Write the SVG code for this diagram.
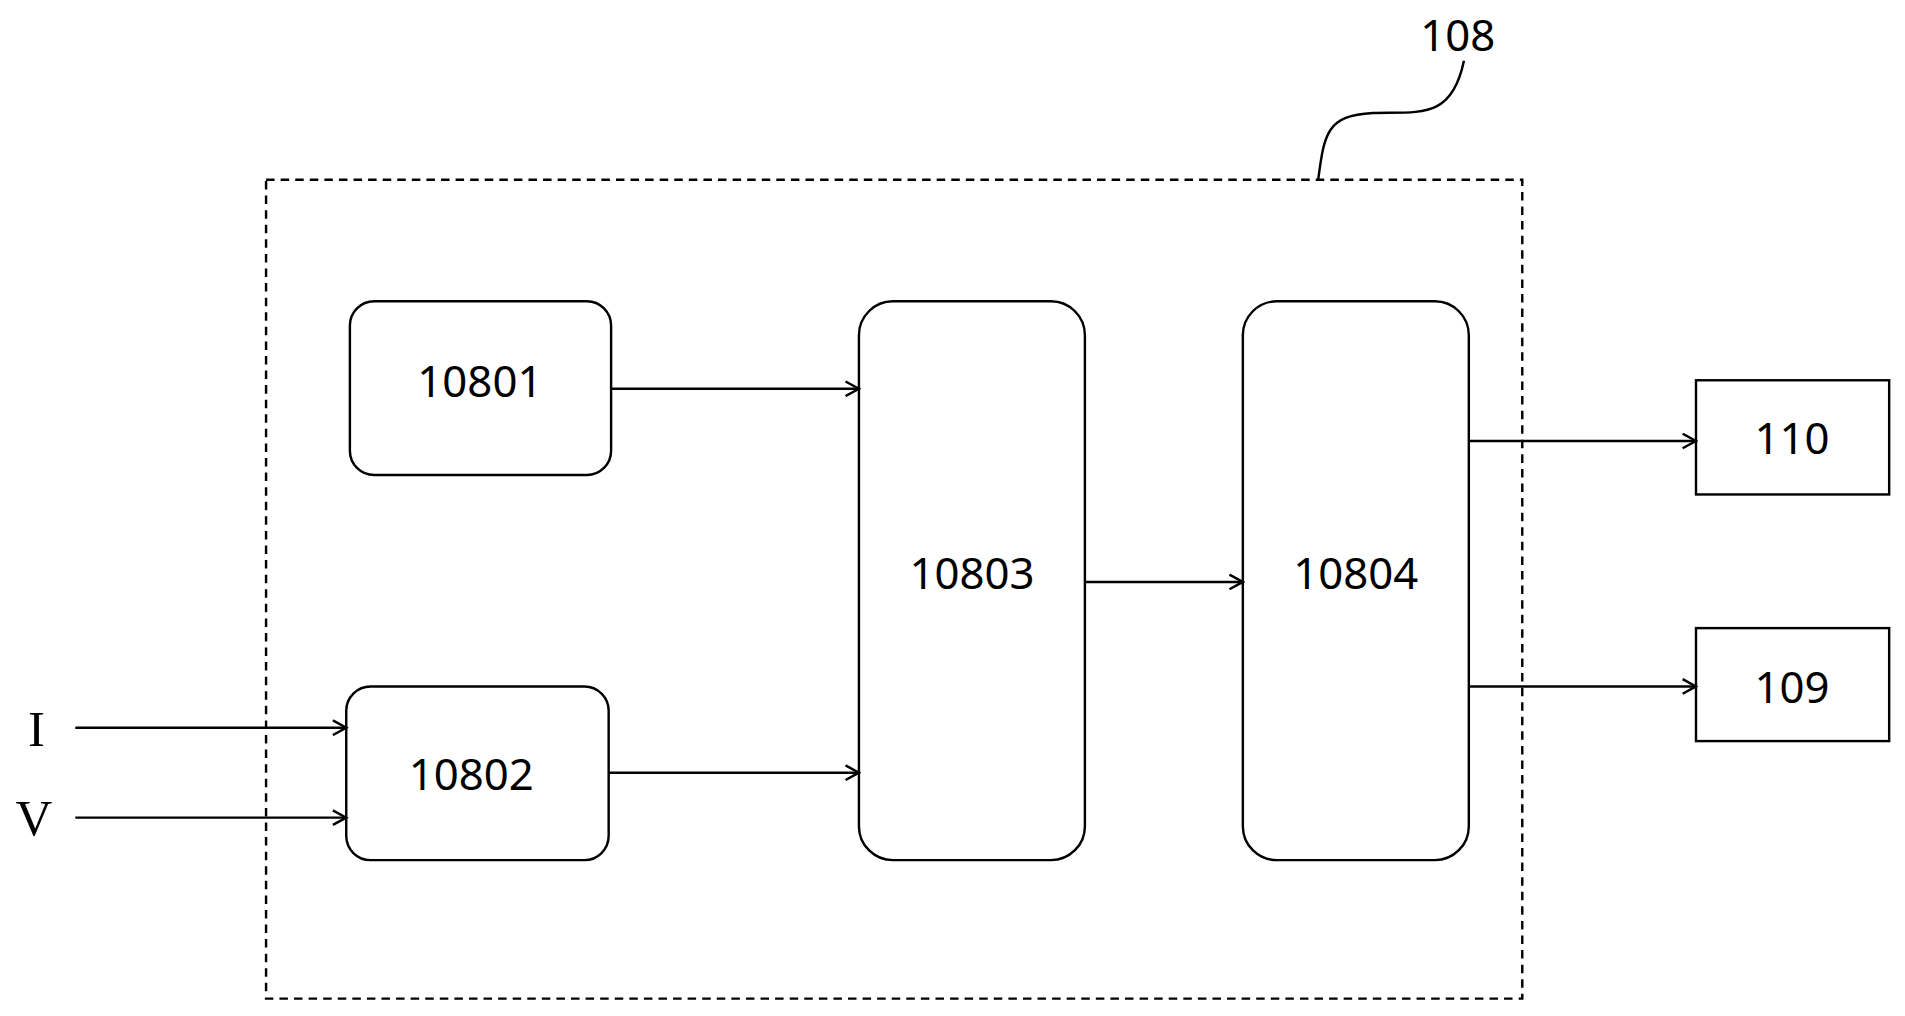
<svg xmlns="http://www.w3.org/2000/svg" width="1905" height="1016" viewBox="0 0 1905 1016">
<style>
.b{fill:#fff;stroke:#000;stroke-width:2}
.t{font-family:"Noto Sans",sans-serif;font-size:36px;text-anchor:middle;dominant-baseline:central}
.s{font-family:"Liberation Serif",serif;font-size:42px;text-anchor:middle;dominant-baseline:central}
.c{stroke:#000;stroke-width:2;fill:none}
</style>
<defs><marker id="a" markerWidth="14" markerHeight="14" refX="12" refY="7" orient="auto" markerUnits="userSpaceOnUse"><path d="M1,1 L12,7 L1,13" fill="none" stroke="#000" stroke-width="2"/></marker></defs>
<rect width="1905" height="1016" fill="#fff"/>
<g transform="scale(1.2149)">
<g id="g108"><rect x="219" y="148" width="1034" height="674" fill="none" stroke="#000" stroke-width="2" stroke-dasharray="7,5"/>
<path class="c" d="M1085,148 C1090,110 1092,95 1130,93 C1170,92 1195,98 1205,50"/>
<text class="t" x="1200" y="28">108</text></g>
<g id="n10801"><rect class="b" x="288" y="248" width="215" height="143" rx="20"/><text class="t" x="395" y="313">10801</text></g>
<g id="n10802"><rect class="b" x="285" y="565" width="216" height="143" rx="20"/><text class="t" x="388" y="636">10802</text></g>
<g id="n10803"><rect class="b" x="707" y="248" width="186" height="460" rx="28"/><text class="t" x="800" y="471">10803</text></g>
<g id="n10804"><rect class="b" x="1023" y="248" width="186" height="460" rx="28"/><text class="t" x="1116" y="471">10804</text></g>
<g id="n110"><rect class="b" x="1396" y="313" width="159" height="94"/><text class="t" x="1475" y="360">110</text></g>
<g id="n109"><rect class="b" x="1396" y="517" width="159" height="93"/><text class="t" x="1475" y="565">109</text></g>
<g id="lI"><text class="s" x="30" y="600">I</text></g>
<g id="lV"><text class="s" x="28" y="673">V</text></g>
<g id="connectors">
<line class="c" x1="503" y1="320" x2="707" y2="320" marker-end="url(#a)"/>
<line class="c" x1="501" y1="636" x2="707" y2="636" marker-end="url(#a)"/>
<line class="c" x1="893" y1="479" x2="1023" y2="479" marker-end="url(#a)"/>
<line class="c" x1="1209" y1="363" x2="1396" y2="363" marker-end="url(#a)"/>
<line class="c" x1="1209" y1="565" x2="1396" y2="565" marker-end="url(#a)"/>
<line class="c" x1="62" y1="599" x2="285" y2="599" marker-end="url(#a)"/>
<line class="c" x1="62" y1="673" x2="285" y2="673" marker-end="url(#a)"/>
</g>
</g>
</svg>
